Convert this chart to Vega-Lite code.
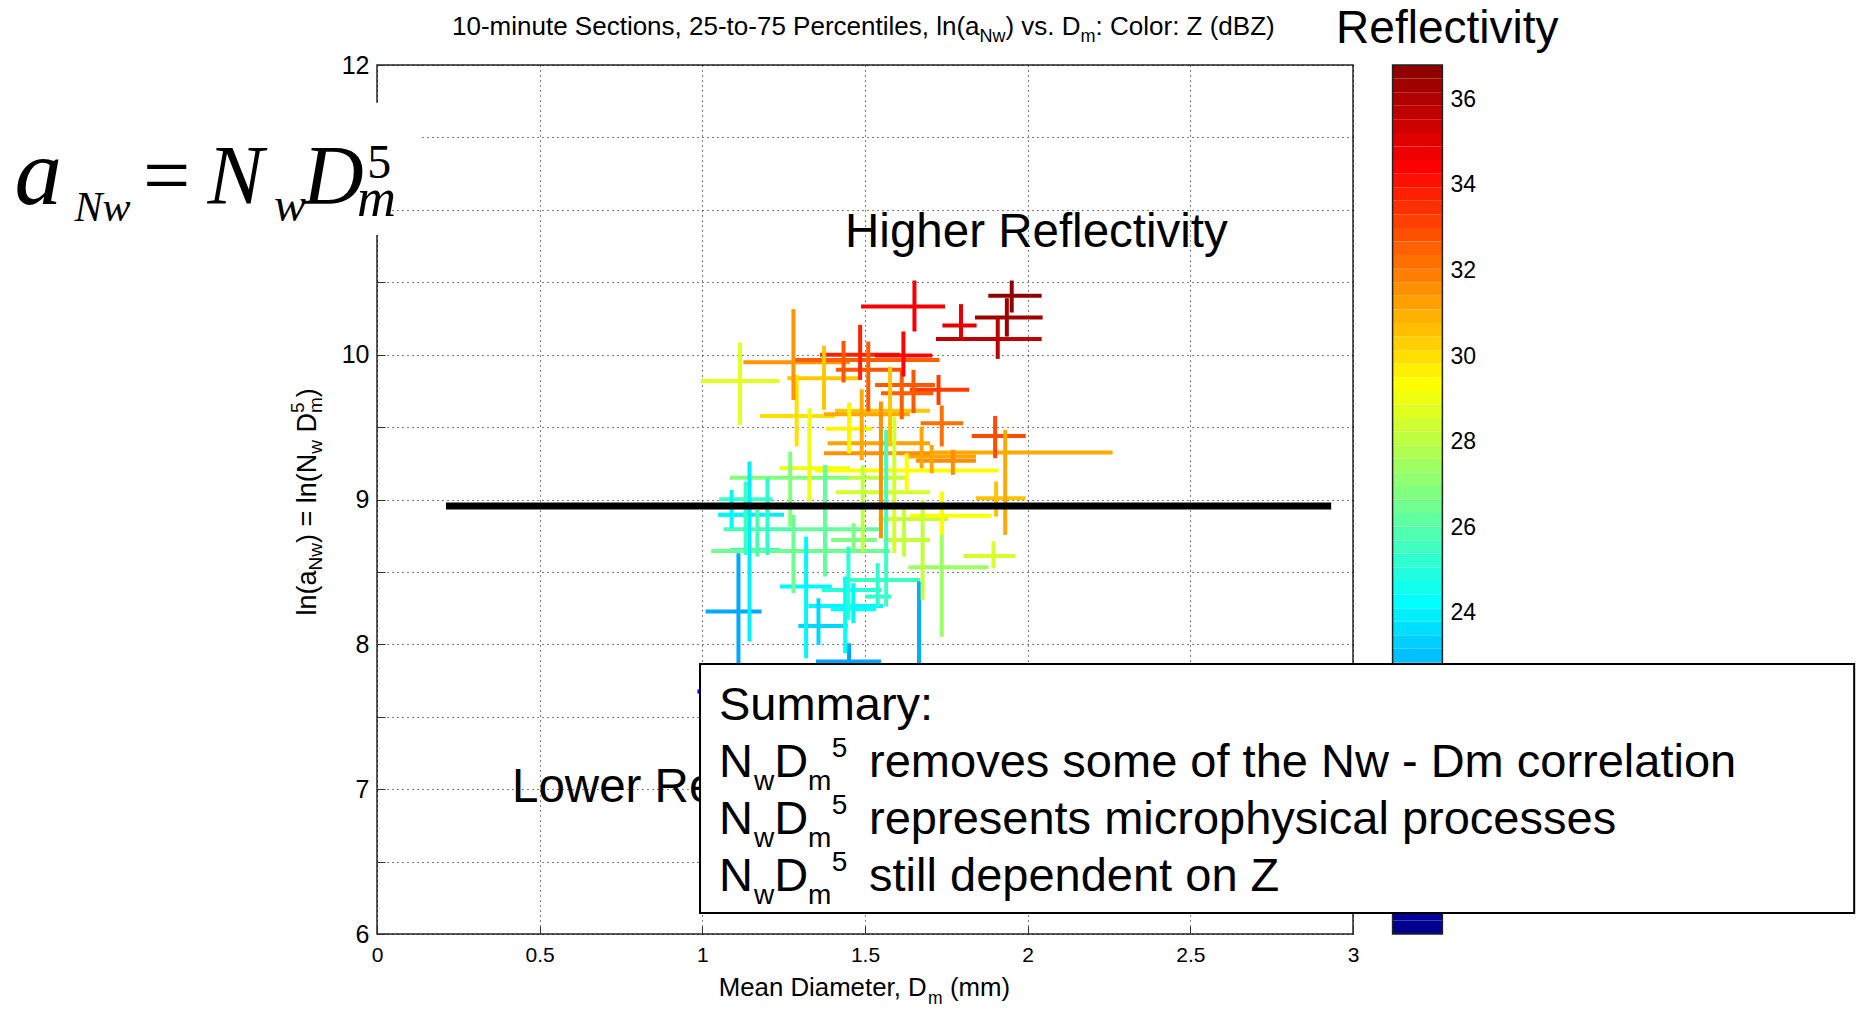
{
  "$schema": "https://vega.github.io/schema/vega-lite/v6.json",
  "width": 976,
  "height": 869,
  "autosize": {"type": "none"},
  "padding": {"left": 377, "top": 65, "right": 507, "bottom": 76},
  "background": "white",
  "data": {"values": [{}]},
  "datasets": {
    "sections": [
      {"xmed":1.060,"xlo":0.985,"xhi":1.150,"ymed":7.675,"ylo":7.550,"yhi":7.800,"z":18.9},
      {"xmed":1.451,"xlo":1.349,"xhi":1.549,"ymed":7.881,"ylo":7.600,"yhi":8.007,"z":22.3},
      {"xmed":1.111,"xlo":1.010,"xhi":1.182,"ymed":8.226,"ylo":7.700,"yhi":8.629,"z":22.4},
      {"xmed":1.666,"xlo":1.550,"xhi":1.780,"ymed":7.700,"ylo":7.500,"yhi":8.433,"z":22.5},
      {"xmed":1.357,"xlo":1.295,"xhi":1.447,"ymed":8.127,"ylo":7.996,"yhi":8.318,"z":23.3},
      {"xmed":1.145,"xlo":1.049,"xhi":1.251,"ymed":8.894,"ylo":8.019,"yhi":9.262,"z":23.8},
      {"xmed":1.090,"xlo":1.049,"xhi":1.135,"ymed":8.894,"ylo":8.801,"yhi":9.066,"z":24.0},
      {"xmed":1.319,"xlo":1.239,"xhi":1.398,"ymed":8.399,"ylo":7.904,"yhi":8.744,"z":24.0},
      {"xmed":1.464,"xlo":1.326,"xhi":1.556,"ymed":8.265,"ylo":8.146,"yhi":8.422,"z":24.0},
      {"xmed":1.439,"xlo":1.395,"xhi":1.534,"ymed":8.242,"ylo":7.938,"yhi":8.468,"z":24.2},
      {"xmed":1.449,"xlo":1.367,"xhi":1.551,"ymed":8.376,"ylo":8.169,"yhi":8.675,"z":24.9},
      {"xmed":1.200,"xlo":1.085,"xhi":1.239,"ymed":8.652,"ylo":8.617,"yhi":9.147,"z":25.0},
      {"xmed":1.539,"xlo":1.500,"xhi":1.580,"ymed":8.330,"ylo":8.260,"yhi":8.560,"z":25.0},
      {"xmed":1.133,"xlo":1.052,"xhi":1.216,"ymed":9.002,"ylo":8.617,"yhi":9.124,"z":25.3},
      {"xmed":1.565,"xlo":1.433,"xhi":1.669,"ymed":8.445,"ylo":8.261,"yhi":9.480,"z":25.3},
      {"xmed":1.169,"xlo":1.065,"xhi":1.295,"ymed":8.795,"ylo":8.606,"yhi":8.928,"z":25.6},
      {"xmed":1.377,"xlo":1.295,"xhi":1.546,"ymed":8.795,"ylo":8.468,"yhi":9.239,"z":26.1},
      {"xmed":1.280,"xlo":1.027,"xhi":1.577,"ymed":8.645,"ylo":8.353,"yhi":8.894,"z":26.3},
      {"xmed":1.465,"xlo":1.396,"xhi":1.536,"ymed":8.721,"ylo":8.629,"yhi":8.836,"z":26.6},
      {"xmed":1.270,"xlo":1.085,"xhi":1.451,"ymed":9.151,"ylo":8.813,"yhi":9.331,"z":26.7},
      {"xmed":1.736,"xlo":1.633,"xhi":1.879,"ymed":8.532,"ylo":8.053,"yhi":9.043,"z":27.2},
      {"xmed":1.493,"xlo":1.449,"xhi":1.633,"ymed":9.151,"ylo":8.640,"yhi":9.239,"z":27.9},
      {"xmed":1.620,"xlo":1.541,"xhi":1.756,"ymed":8.866,"ylo":8.606,"yhi":8.951,"z":28.0},
      {"xmed":1.677,"xlo":1.556,"xhi":1.700,"ymed":8.721,"ylo":8.307,"yhi":8.997,"z":28.0},
      {"xmed":1.590,"xlo":1.411,"xhi":1.700,"ymed":9.050,"ylo":8.629,"yhi":9.573,"z":28.3},
      {"xmed":1.895,"xlo":1.802,"xhi":1.961,"ymed":8.610,"ylo":8.525,"yhi":8.710,"z":28.4},
      {"xmed":1.116,"xlo":0.995,"xhi":1.236,"ymed":9.819,"ylo":9.515,"yhi":10.084,"z":28.6},
      {"xmed":1.329,"xlo":1.237,"xhi":1.454,"ymed":9.216,"ylo":8.986,"yhi":9.630,"z":28.8},
      {"xmed":1.628,"xlo":1.346,"xhi":1.910,"ymed":9.200,"ylo":9.066,"yhi":9.319,"z":29.2},
      {"xmed":1.736,"xlo":1.638,"xhi":1.889,"ymed":8.887,"ylo":8.756,"yhi":9.055,"z":29.2},
      {"xmed":1.451,"xlo":1.379,"xhi":1.523,"ymed":9.488,"ylo":9.319,"yhi":9.669,"z":29.4},
      {"xmed":1.290,"xlo":1.177,"xhi":1.408,"ymed":9.577,"ylo":9.366,"yhi":9.860,"z":29.8},
      {"xmed":1.374,"xlo":1.261,"xhi":1.490,"ymed":9.837,"ylo":9.619,"yhi":10.061,"z":30.3},
      {"xmed":1.577,"xlo":1.408,"xhi":1.700,"ymed":9.612,"ylo":9.366,"yhi":9.918,"z":30.3},
      {"xmed":1.903,"xlo":1.841,"xhi":1.994,"ymed":9.009,"ylo":8.882,"yhi":9.124,"z":30.4},
      {"xmed":1.931,"xlo":1.710,"xhi":2.261,"ymed":9.324,"ylo":8.756,"yhi":9.481,"z":30.9},
      {"xmed":1.490,"xlo":1.374,"xhi":1.638,"ymed":9.589,"ylo":9.273,"yhi":9.761,"z":30.9},
      {"xmed":1.674,"xlo":1.385,"xhi":1.700,"ymed":9.389,"ylo":9.216,"yhi":9.504,"z":31.0},
      {"xmed":1.705,"xlo":1.628,"xhi":1.841,"ymed":9.297,"ylo":9.181,"yhi":9.377,"z":31.0},
      {"xmed":1.280,"xlo":1.126,"xhi":1.454,"ymed":9.948,"ylo":9.688,"yhi":10.314,"z":31.3},
      {"xmed":1.549,"xlo":1.374,"xhi":1.710,"ymed":9.320,"ylo":8.733,"yhi":9.676,"z":31.4},
      {"xmed":1.770,"xlo":1.657,"xhi":1.841,"ymed":9.267,"ylo":9.170,"yhi":9.343,"z":31.5},
      {"xmed":1.736,"xlo":1.671,"xhi":1.802,"ymed":9.527,"ylo":9.366,"yhi":9.649,"z":32.0},
      {"xmed":1.510,"xlo":1.285,"xhi":1.729,"ymed":9.964,"ylo":9.607,"yhi":10.091,"z":32.4},
      {"xmed":1.613,"xlo":1.549,"xhi":1.710,"ymed":9.734,"ylo":9.554,"yhi":9.895,"z":32.4},
      {"xmed":1.649,"xlo":1.531,"xhi":1.715,"ymed":9.791,"ylo":9.596,"yhi":9.895,"z":32.5},
      {"xmed":1.434,"xlo":1.411,"xhi":1.613,"ymed":9.895,"ylo":9.808,"yhi":10.095,"z":32.6},
      {"xmed":1.900,"xlo":1.828,"xhi":1.994,"ymed":9.439,"ylo":9.285,"yhi":9.577,"z":32.8},
      {"xmed":1.726,"xlo":1.638,"xhi":1.820,"ymed":9.757,"ylo":9.653,"yhi":9.860,"z":33.1},
      {"xmed":1.485,"xlo":1.362,"xhi":1.608,"ymed":10.000,"ylo":9.826,"yhi":10.206,"z":33.6},
      {"xmed":1.618,"xlo":1.531,"xhi":1.707,"ymed":9.994,"ylo":9.849,"yhi":10.160,"z":34.2},
      {"xmed":1.652,"xlo":1.488,"xhi":1.746,"ymed":10.332,"ylo":10.160,"yhi":10.512,"z":34.4},
      {"xmed":1.795,"xlo":1.738,"xhi":1.843,"ymed":10.201,"ylo":10.114,"yhi":10.349,"z":34.8},
      {"xmed":1.908,"xlo":1.718,"xhi":2.043,"ymed":10.109,"ylo":9.971,"yhi":10.252,"z":35.6},
      {"xmed":1.936,"xlo":1.838,"xhi":2.046,"ymed":10.256,"ylo":10.125,"yhi":10.390,"z":36.2},
      {"xmed":1.951,"xlo":1.879,"xhi":2.043,"ymed":10.406,"ylo":10.291,"yhi":10.512,"z":36.5}
    ],
    "colorbar": [
      {"lo":16.5,"hi":16.8172},{"lo":16.8172,"hi":17.1344},{"lo":17.1344,"hi":17.4516},{"lo":17.4516,"hi":17.7688},
      {"lo":17.7688,"hi":18.0859},{"lo":18.0859,"hi":18.4031},{"lo":18.4031,"hi":18.7203},{"lo":18.7203,"hi":19.0375},
      {"lo":19.0375,"hi":19.3547},{"lo":19.3547,"hi":19.6719},{"lo":19.6719,"hi":19.9891},{"lo":19.9891,"hi":20.3063},
      {"lo":20.3063,"hi":20.6234},{"lo":20.6234,"hi":20.9406},{"lo":20.9406,"hi":21.2578},{"lo":21.2578,"hi":21.575},
      {"lo":21.575,"hi":21.8922},{"lo":21.8922,"hi":22.2094},{"lo":22.2094,"hi":22.5266},{"lo":22.5266,"hi":22.8438},
      {"lo":22.8438,"hi":23.1609},{"lo":23.1609,"hi":23.4781},{"lo":23.4781,"hi":23.7953},{"lo":23.7953,"hi":24.1125},
      {"lo":24.1125,"hi":24.4297},{"lo":24.4297,"hi":24.7469},{"lo":24.7469,"hi":25.0641},{"lo":25.0641,"hi":25.3813},
      {"lo":25.3813,"hi":25.6984},{"lo":25.6984,"hi":26.0156},{"lo":26.0156,"hi":26.3328},{"lo":26.3328,"hi":26.65},
      {"lo":26.65,"hi":26.9672},{"lo":26.9672,"hi":27.2844},{"lo":27.2844,"hi":27.6016},{"lo":27.6016,"hi":27.9188},
      {"lo":27.9188,"hi":28.2359},{"lo":28.2359,"hi":28.5531},{"lo":28.5531,"hi":28.8703},{"lo":28.8703,"hi":29.1875},
      {"lo":29.1875,"hi":29.5047},{"lo":29.5047,"hi":29.8219},{"lo":29.8219,"hi":30.1391},{"lo":30.1391,"hi":30.4563},
      {"lo":30.4563,"hi":30.7734},{"lo":30.7734,"hi":31.0906},{"lo":31.0906,"hi":31.4078},{"lo":31.4078,"hi":31.725},
      {"lo":31.725,"hi":32.0422},{"lo":32.0422,"hi":32.3594},{"lo":32.3594,"hi":32.6766},{"lo":32.6766,"hi":32.9938},
      {"lo":32.9938,"hi":33.3109},{"lo":33.3109,"hi":33.6281},{"lo":33.6281,"hi":33.9453},{"lo":33.9453,"hi":34.2625},
      {"lo":34.2625,"hi":34.5797},{"lo":34.5797,"hi":34.8969},{"lo":34.8969,"hi":35.2141},{"lo":35.2141,"hi":35.5313},
      {"lo":35.5313,"hi":35.8484},{"lo":35.8484,"hi":36.1656},{"lo":36.1656,"hi":36.4828},{"lo":36.4828,"hi":36.8}
    ]
  },
  "layer": [
    {
      "data": {"name": "colorbar"},
      "layer": [
        {
          "mark": {"type": "rect"},
          "encoding": {
            "x": {"datum": 3.1217},
            "x2": {"datum": 3.2748},
            "y": {"field": "lo", "type": "quantitative",
                  "scale": {"domain": [16.5, 36.8], "nice": false, "zero": false},
                  "axis": {"orient": "right", "offset": 89, "title": null, "grid": false,
                           "values": [18, 20, 22, 24, 26, 28, 30, 32, 34, 36],
                           "labelFontSize": 23, "labelFlush": false, "labelOverlap": false}},
            "y2": {"field": "hi"},
            "color": {"field": "lo", "type": "quantitative"}
          }
        },
        {
          "data": {"values": [{}]},
          "mark": {"type": "rect", "fillOpacity": 0, "stroke": "#222", "strokeWidth": 1.5},
          "encoding": {
            "x": {"datum": 3.1217}, "x2": {"datum": 3.2748},
            "y": {"datum": 16.5}, "y2": {"datum": 36.8}
          }
        }
      ]
    },
    {
      "layer": [
        {
          "data": {"name": "sections"},
          "mark": {"type": "rule", "strokeWidth": 4, "strokeCap": "butt"},
          "encoding": {
            "x": {"field": "xlo", "type": "quantitative",
                  "scale": {"domain": [0, 3], "nice": false, "zero": false},
                  "axis": {"title": null, "values": [0, 0.5, 1, 1.5, 2, 2.5, 3], "format": "~g", "grid": true,
                           "labelFontSize": 21, "labelPadding": 18, "labelFlush": false, "labelOverlap": false}},
            "x2": {"field": "xhi"},
            "y": {"field": "ymed", "type": "quantitative",
                  "scale": {"domain": [6, 12], "nice": false, "zero": false},
                  "axis": {"title": null, "orient": "left", "grid": true, "format": "~g",
                           "values": [6, 6.5, 7, 7.5, 8, 8.5, 9, 9.5, 10, 10.5, 11, 11.5, 12],
                           "labelExpr": "datum.value % 1 === 0 ? datum.label : ''",
                           "labelFontSize": 25, "labelFlush": false, "labelOverlap": false}},
            "color": {"field": "z", "type": "quantitative",
                      "scale": {"domain": [16.5, 19.0375, 21.575, 24.1125, 26.65, 29.1875, 31.725, 34.2625, 36.8],
                                "range": ["#00008f", "#0000ff", "#0080ff", "#00ffff", "#80ff80", "#ffff00", "#ff8000", "#ff0000", "#800000"],
                                "interpolate": "rgb"}}
          }
        },
        {
          "data": {"name": "sections"},
          "mark": {"type": "rule", "strokeWidth": 4, "strokeCap": "butt"},
          "encoding": {
            "x": {"field": "xmed", "type": "quantitative"},
            "y": {"field": "ylo", "type": "quantitative"},
            "y2": {"field": "yhi"},
            "color": {"field": "z", "type": "quantitative"}
          }
        },
        {
          "mark": {"type": "rule", "color": "#000", "strokeWidth": 7},
          "encoding": {"x": {"datum": 0.212}, "x2": {"datum": 2.933}, "y": {"datum": 8.955}}
        },
        {"mark": {"type": "text", "text": "Higher Reflectivity", "fontSize": 47.5, "align": "left", "baseline": "alphabetic", "color": "#000"},
         "encoding": {"x": {"datum": 1.4387}, "y": {"datum": 10.744}}},
        {"mark": {"type": "text", "text": "Lower Reflectivity", "fontSize": 47.5, "align": "left", "baseline": "alphabetic", "color": "#000"},
         "encoding": {"x": {"datum": 0.415}, "y": {"datum": 6.9116}}},

        {"mark": {"type": "rect", "fill": "#fff", "stroke": "#000", "strokeWidth": 2},
         "encoding": {"x": {"datum": 0.9929}, "x2": {"datum": 4.5405}, "y": {"datum": 7.8646}, "y2": {"datum": 6.145}}},
        {"mark": {"type": "text", "text": "Summary:", "fontSize": 47, "align": "left", "baseline": "alphabetic", "color": "#000"},
         "encoding": {"x": {"datum": 1.0513}, "y": {"datum": 7.4779}}},

        {"mark": {"type": "text", "text": "N", "fontSize": 47, "align": "left", "baseline": "alphabetic", "color": "#000"},
         "encoding": {"x": {"datum": 1.0513}, "y": {"datum": 7.0843}}},
        {"mark": {"type": "text", "text": "w", "fontSize": 28, "align": "left", "baseline": "alphabetic", "color": "#000"},
         "encoding": {"x": {"datum": 1.1586}, "y": {"datum": 6.9945}}},
        {"mark": {"type": "text", "text": "D", "fontSize": 47, "align": "left", "baseline": "alphabetic", "color": "#000"},
         "encoding": {"x": {"datum": 1.2207}, "y": {"datum": 7.0843}}},
        {"mark": {"type": "text", "text": "m", "fontSize": 28, "align": "left", "baseline": "alphabetic", "color": "#000"},
         "encoding": {"x": {"datum": 1.3250}, "y": {"datum": 6.9945}}},
        {"mark": {"type": "text", "text": "5", "fontSize": 28, "align": "left", "baseline": "alphabetic", "color": "#000"},
         "encoding": {"x": {"datum": 1.3980}, "y": {"datum": 7.2224}}},
        {"mark": {"type": "text", "text": "removes some of the Nw - Dm correlation", "fontSize": 47, "align": "left", "baseline": "alphabetic", "color": "#000"},
         "encoding": {"x": {"datum": 1.5125}, "y": {"datum": 7.0843}}},

        {"mark": {"type": "text", "text": "N", "fontSize": 47, "align": "left", "baseline": "alphabetic", "color": "#000"},
         "encoding": {"x": {"datum": 1.0513}, "y": {"datum": 6.6906}}},
        {"mark": {"type": "text", "text": "w", "fontSize": 28, "align": "left", "baseline": "alphabetic", "color": "#000"},
         "encoding": {"x": {"datum": 1.1586}, "y": {"datum": 6.6008}}},
        {"mark": {"type": "text", "text": "D", "fontSize": 47, "align": "left", "baseline": "alphabetic", "color": "#000"},
         "encoding": {"x": {"datum": 1.2207}, "y": {"datum": 6.6906}}},
        {"mark": {"type": "text", "text": "m", "fontSize": 28, "align": "left", "baseline": "alphabetic", "color": "#000"},
         "encoding": {"x": {"datum": 1.3250}, "y": {"datum": 6.6008}}},
        {"mark": {"type": "text", "text": "5", "fontSize": 28, "align": "left", "baseline": "alphabetic", "color": "#000"},
         "encoding": {"x": {"datum": 1.3980}, "y": {"datum": 6.8287}}},
        {"mark": {"type": "text", "text": "represents microphysical processes", "fontSize": 47, "align": "left", "baseline": "alphabetic", "color": "#000"},
         "encoding": {"x": {"datum": 1.5125}, "y": {"datum": 6.6906}}},

        {"mark": {"type": "text", "text": "N", "fontSize": 47, "align": "left", "baseline": "alphabetic", "color": "#000"},
         "encoding": {"x": {"datum": 1.0513}, "y": {"datum": 6.2970}}},
        {"mark": {"type": "text", "text": "w", "fontSize": 28, "align": "left", "baseline": "alphabetic", "color": "#000"},
         "encoding": {"x": {"datum": 1.1586}, "y": {"datum": 6.2072}}},
        {"mark": {"type": "text", "text": "D", "fontSize": 47, "align": "left", "baseline": "alphabetic", "color": "#000"},
         "encoding": {"x": {"datum": 1.2207}, "y": {"datum": 6.2970}}},
        {"mark": {"type": "text", "text": "m", "fontSize": 28, "align": "left", "baseline": "alphabetic", "color": "#000"},
         "encoding": {"x": {"datum": 1.3250}, "y": {"datum": 6.2072}}},
        {"mark": {"type": "text", "text": "5", "fontSize": 28, "align": "left", "baseline": "alphabetic", "color": "#000"},
         "encoding": {"x": {"datum": 1.3980}, "y": {"datum": 6.4351}}},
        {"mark": {"type": "text", "text": "still dependent on Z", "fontSize": 47, "align": "left", "baseline": "alphabetic", "color": "#000"},
         "encoding": {"x": {"datum": 1.5125}, "y": {"datum": 6.2970}}},

        {"mark": {"type": "rect", "fill": "#fff"},
         "encoding": {"x": {"datum": -1.14}, "x2": {"datum": 0.043}, "y": {"datum": 10.827}, "y2": {"datum": 11.739}}},
        {"mark": {"type": "rect", "fill": "#fff"},
         "encoding": {"x": {"datum": 0.043}, "x2": {"datum": 0.132}, "y": {"datum": 11.2}, "y2": {"datum": 11.739}}},
        {"mark": {"type": "text", "text": "a", "font": "Liberation Serif", "fontStyle": "italic", "fontSize": 95, "align": "left", "baseline": "alphabetic", "color": "#000"},
         "encoding": {"x": {"datum": -1.114}, "y": {"datum": 11.0414}}},
        {"mark": {"type": "text", "text": "Nw", "font": "Liberation Serif", "fontStyle": "italic", "fontSize": 42, "align": "left", "baseline": "alphabetic", "color": "#000"},
         "encoding": {"x": {"datum": -0.930}, "y": {"datum": 10.9241}}},
        {"mark": {"type": "text", "text": "=", "font": "Liberation Serif", "fontSize": 84, "align": "left", "baseline": "alphabetic", "color": "#000"},
         "encoding": {"x": {"datum": -0.7193}, "y": {"datum": 11.0414}}},
        {"mark": {"type": "text", "text": "N", "font": "Liberation Serif", "fontStyle": "italic", "fontSize": 84, "align": "left", "baseline": "alphabetic", "color": "#000"},
         "encoding": {"x": {"datum": -0.5208}, "y": {"datum": 11.0414}}},
        {"mark": {"type": "text", "text": "w", "font": "Liberation Serif", "fontStyle": "italic", "fontSize": 48, "align": "left", "baseline": "alphabetic", "color": "#000"},
         "encoding": {"x": {"datum": -0.3167}, "y": {"datum": 10.9241}}},
        {"mark": {"type": "text", "text": "D", "font": "Liberation Serif", "fontStyle": "italic", "fontSize": 84, "align": "left", "baseline": "alphabetic", "color": "#000"},
         "encoding": {"x": {"datum": -0.2275}, "y": {"datum": 11.0414}}},
        {"mark": {"type": "text", "text": "5", "font": "Liberation Serif", "fontSize": 48, "align": "left", "baseline": "alphabetic", "color": "#000"},
         "encoding": {"x": {"datum": -0.030}, "y": {"datum": 11.2210}}},
        {"mark": {"type": "text", "text": "m", "font": "Liberation Serif", "fontStyle": "italic", "fontSize": 54, "align": "left", "baseline": "alphabetic", "color": "#000"},
         "encoding": {"x": {"datum": -0.0615}, "y": {"datum": 10.9586}}},

        {"mark": {"type": "text", "text": "10-minute Sections, 25-to-75 Percentiles, ln(a", "fontSize": 26, "align": "left", "baseline": "alphabetic", "color": "#000"},
         "encoding": {"x": {"datum": 0.2306}, "y": {"datum": 12.2086}}},
        {"mark": {"type": "text", "text": "Nw", "fontSize": 18, "align": "left", "baseline": "alphabetic", "color": "#000"},
         "encoding": {"x": {"datum": 1.8518}, "y": {"datum": 12.160}}},
        {"mark": {"type": "text", "text": ") vs. D", "fontSize": 26, "align": "left", "baseline": "alphabetic", "color": "#000"},
         "encoding": {"x": {"datum": 1.9318}, "y": {"datum": 12.2086}}},
        {"mark": {"type": "text", "text": "m", "fontSize": 18, "align": "left", "baseline": "alphabetic", "color": "#000"},
         "encoding": {"x": {"datum": 2.1627}, "y": {"datum": 12.160}}},
        {"mark": {"type": "text", "text": ": Color: Z (dBZ)", "fontSize": 26, "align": "left", "baseline": "alphabetic", "color": "#000"},
         "encoding": {"x": {"datum": 2.2087}, "y": {"datum": 12.2086}}},

        {"mark": {"type": "text", "text": "Mean Diameter, D", "fontSize": 25.8, "align": "left", "baseline": "alphabetic", "color": "#000"},
         "encoding": {"x": {"datum": 1.0504}, "y": {"datum": 5.572}}},
        {"mark": {"type": "text", "text": "m", "fontSize": 17.5, "align": "left", "baseline": "alphabetic", "color": "#000"},
         "encoding": {"x": {"datum": 1.6938}, "y": {"datum": 5.517}}},
        {"mark": {"type": "text", "text": "(mm)", "fontSize": 25.8, "align": "left", "baseline": "alphabetic", "color": "#000"},
         "encoding": {"x": {"datum": 1.7609}, "y": {"datum": 5.572}}},

        {"mark": {"type": "text", "text": "ln(a", "angle": 270, "fontSize": 27, "align": "left", "baseline": "alphabetic", "color": "#000"},
         "encoding": {"x": {"datum": -0.1875}, "y": {"datum": 8.1996}}},
        {"mark": {"type": "text", "text": "Nw", "angle": 270, "fontSize": 19, "align": "left", "baseline": "alphabetic", "color": "#000"},
         "encoding": {"x": {"datum": -0.1691}, "y": {"datum": 8.5104}}},
        {"mark": {"type": "text", "text": ") = ln(N", "angle": 270, "fontSize": 27, "align": "left", "baseline": "alphabetic", "color": "#000"},
         "encoding": {"x": {"datum": -0.1875}, "y": {"datum": 8.6989}}},
        {"mark": {"type": "text", "text": "w", "angle": 270, "fontSize": 19, "align": "left", "baseline": "alphabetic", "color": "#000"},
         "encoding": {"x": {"datum": -0.1691}, "y": {"datum": 9.3163}}},
        {"mark": {"type": "text", "text": "D", "angle": 270, "fontSize": 27, "align": "left", "baseline": "alphabetic", "color": "#000"},
         "encoding": {"x": {"datum": -0.1875}, "y": {"datum": 9.4627}}},
        {"mark": {"type": "text", "text": "m", "angle": 270, "fontSize": 19, "align": "left", "baseline": "alphabetic", "color": "#000"},
         "encoding": {"x": {"datum": -0.1691}, "y": {"datum": 9.5967}}},
        {"mark": {"type": "text", "text": "5", "angle": 270, "fontSize": 19, "align": "left", "baseline": "alphabetic", "color": "#000"},
         "encoding": {"x": {"datum": -0.2244}, "y": {"datum": 9.5967}}},
        {"mark": {"type": "text", "text": ")", "angle": 270, "fontSize": 27, "align": "left", "baseline": "alphabetic", "color": "#000"},
         "encoding": {"x": {"datum": -0.1875}, "y": {"datum": 9.7065}}},

        {"mark": {"type": "text", "text": "Reflectivity", "fontSize": 46, "align": "left", "baseline": "alphabetic", "color": "#000"},
         "encoding": {"x": {"datum": 2.9481}, "y": {"datum": 12.1533}}}
      ]
    }
  ],
  "resolve": {"scale": {"y": "independent"}, "axis": {"y": "independent"}},
  "config": {
    "view": {"stroke": "#262626", "strokeWidth": 1.5},
    "legend": {"disable": true},
    "text": {"font": "Liberation Sans"},
    "axis": {
      "domain": false,
      "grid": true,
      "gridColor": "#000",
      "gridDash": [1, 4],
      "gridWidth": 1,
      "ticks": true,
      "tickColor": "#333",
      "tickSize": -8,
      "tickWidth": 1,
      "labelFont": "Liberation Sans",
      "labelFontSize": 22,
      "labelColor": "#000",
      "labelPadding": 16
    }
  }
}
